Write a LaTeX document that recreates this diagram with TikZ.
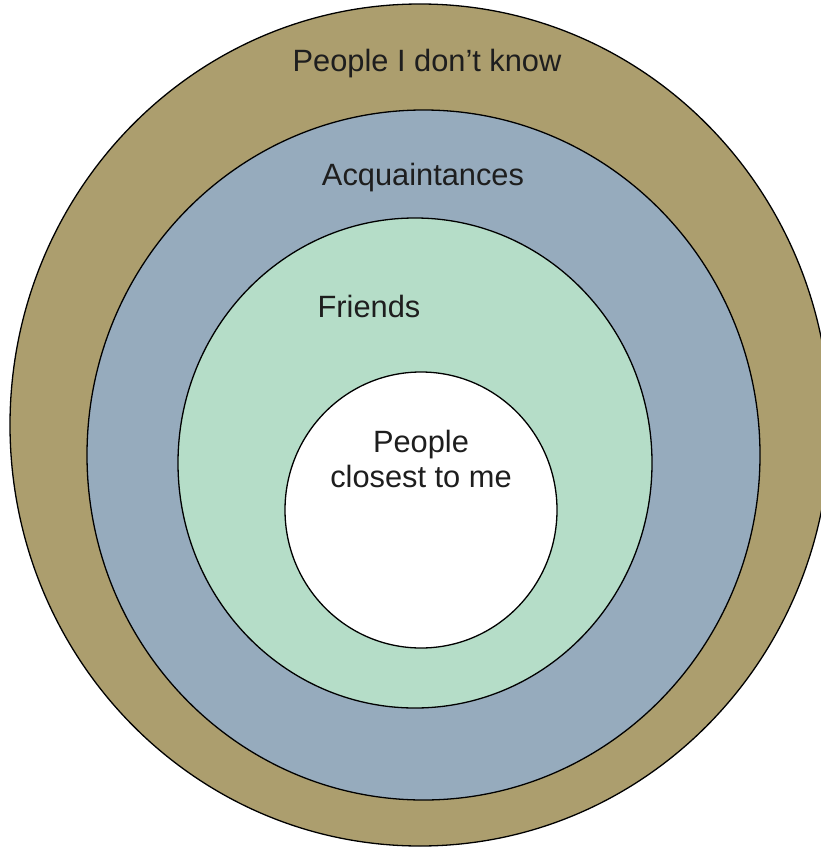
\documentclass[tikz,border=0pt]{standalone}
\usepackage{fontspec}
\setmainfont{Liberation Sans}
\usepackage{xcolor}
\usetikzlibrary{shapes.geometric}

\definecolor{unknowncol}{RGB}{172,158,110}
\definecolor{acqcol}{RGB}{150,171,189}
\definecolor{friendcol}{RGB}{181,221,200}
\definecolor{labelcol}{RGB}{30,30,30}

\begin{document}
\begin{tikzpicture}[
x=1pt, y=-1pt,
ring/.style={ellipse, draw, line width=1.3pt, inner sep=0pt},
ringlabel/.style={anchor=base, text=labelcol, font=\fontsize{30.8}{35}\selectfont, align=center, inner sep=0pt}
]
\useasboundingbox (0,0) rectangle (821,848);

\node[ring, fill=unknowncol, minimum width=820pt, minimum height=842pt] (unknown) at (420,425) {};
\node[ring, fill=acqcol, minimum width=673pt, minimum height=690pt] (acq) at (423.5,455) {};
\node[ring, fill=friendcol, minimum width=474pt, minimum height=490pt] (friends) at (415,463) {};
\node[ring, fill=white, minimum width=272pt, minimum height=276pt] (closest) at (421,510) {};

\node[ringlabel] (unknownlabel) at (427,72) {People I don’t know};
\node[ringlabel] (acqlabel) at (423,185) {Acquaintances};
\node[ringlabel] (friendslabel) at (369,317) {Friends};
\node[ringlabel] (closestlabel) at (421,487) {People\\closest to me};

\end{tikzpicture}
\end{document}
